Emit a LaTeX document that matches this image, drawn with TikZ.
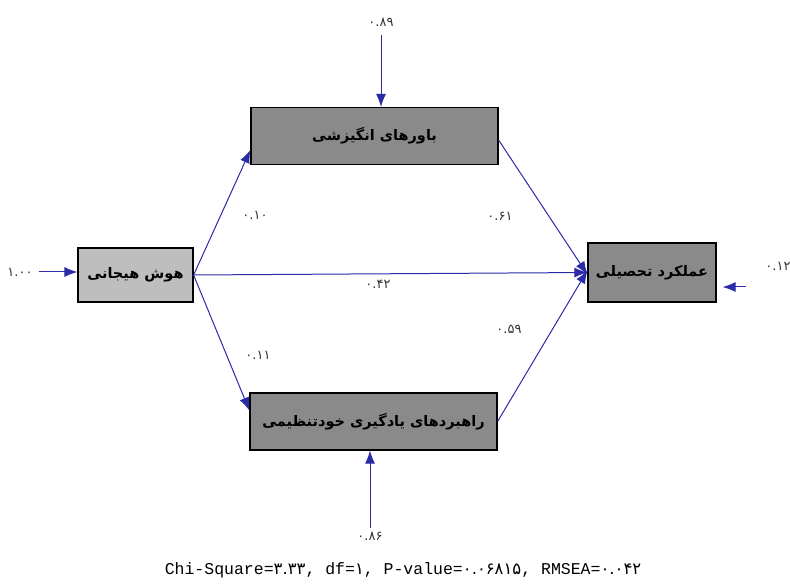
\documentclass[tikz,border=0pt]{standalone}
\usepackage{fontspec}
\setmonofont{Liberation Mono}
\newfontfamily\fafont[Script=Arabic]{DejaVu Sans}
\TeXXeTstate=1
\usetikzlibrary{arrows.meta}
\definecolor{pathBlue}{HTML}{2B2BA8}
\definecolor{boxGray}{HTML}{8A8A8A}
\definecolor{boxLight}{HTML}{BEBEBE}
\newcommand\fa[1]{{\fafont #1}}
\newcommand\rtl[1]{{\fafont\bfseries\beginR #1\endR}}

\begin{document}
\begin{tikzpicture}[x=1pt, y=-1pt,
  latent/.style={draw=black, line width=1.2pt, fill=boxGray, minimum width=247pt,
                 minimum height=57pt, inner sep=0pt, font=\fontsize{14.5}{17}\selectfont},
  a/.style={-{Latex[length=13pt,width=10pt]}, draw=pathBlue, line width=1pt},
  coef/.style={font=\fontsize{13}{14}\selectfont, text=black!80, inner sep=1pt}
]
\useasboundingbox (0,0) rectangle (790,585);
\node[latent] (motiv) at (374.5,136) {\rtl{باورهای انگیزشی}};
\node[latent, fill=boxLight, minimum width=115pt, minimum height=54pt] (emot) at (135.5,275) {\rtl{هوش هیجانی}};
\node[latent, minimum width=128pt, minimum height=59pt] (perf) at (652,272.5) {\rtl{عملکرد تحصیلی}};
\node[latent] (strat) at (373.5,421.5) {\rtl{راهبردهای یادگیری خودتنظیمی}};
\node[coef] (e1) at (381,22) {\fa{۰.۸۹}};
\node[coef] (e2) at (370,536) {\fa{۰.۸۶}};
\node[coef] (e3) at (20,272) {\fa{۱.۰۰}};
\node[coef] (e4) at (778,266) {\fa{۰.۱۲}};
\coordinate (r4) at (746,287);
\draw[a, shorten <=8pt] (e1) -- (e1 |- motiv.north);
\draw[a, shorten <=3pt] (e2) -- (e2 |- strat.south);
\draw[a, shorten <=5pt] (e3) -- (e3 -| emot.west);
\draw[a, shorten >=6pt] (r4) -- (r4 -| perf.east);
\draw[a] (emot.east) -- ([yshift=-14pt]motiv.west);
\draw[a] (emot.east) -- ([yshift=11pt]strat.west);
\draw[a] (emot.east) -- (perf.west);
\draw[a] ([yshift=-4pt]motiv.east) -- ([yshift=-2pt]perf.west);
\draw[a] (strat.east) -- ([yshift=2pt]perf.west);
\node[coef] (c1) at (255,215) {\fa{۰.۱۰}};
\node[coef] (c2) at (500,216) {\fa{۰.۶۱}};
\node[coef] (c3) at (378,284) {\fa{۰.۴۲}};
\node[coef] (c4) at (258,355) {\fa{۰.۱۱}};
\node[coef] (c5) at (509,329) {\fa{۰.۵۹}};
\node[font=\ttfamily\fontsize{16.5}{18}\selectfont] (fit) at (403,570) {Chi-Square=\fa{۳.۳۳}, df=\fa{۱}, P-value=\fa{۰.۰۶۸۱۵}, RMSEA=\fa{۰.۰۴۲}};
\end{tikzpicture}
\end{document}
